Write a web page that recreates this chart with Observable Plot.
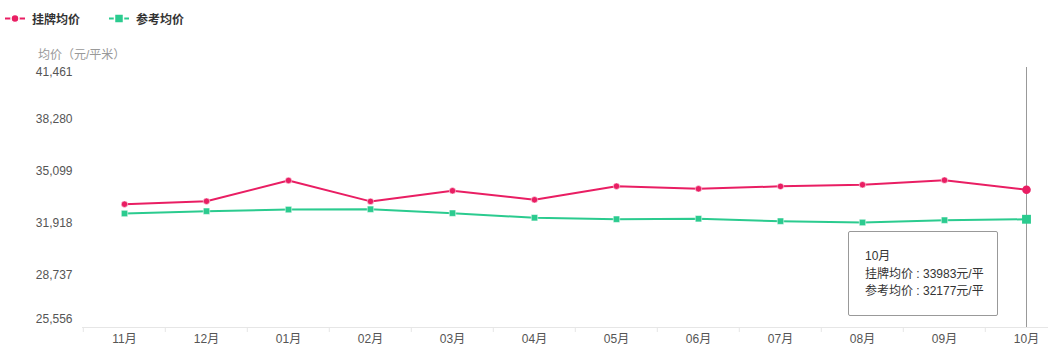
<!DOCTYPE html>
<html>
<head>
<meta charset="utf-8">
<script src="https://cdn.jsdelivr.net/npm/d3@7"></script>
<script src="https://cdn.jsdelivr.net/npm/@observablehq/plot@0.6"></script>
<style>
  html, body { margin: 0; padding: 0; background: #fff; }
  body { width: 1048px; height: 357px; overflow: hidden; position: relative;
         font-family: Arial, "Liberation Sans", "Noto Sans CJK SC", sans-serif; }
  #legend { height: 36px; position: relative; font-size: 12px; color: #333; font-weight: 600; }
  .li { position: absolute; top: 8px; display: flex; align-items: center; }
  .li svg { margin-right: 7px; }
  #ytitle { position: absolute; left: 38px; top: 45px; font-size: 12px; color: #999; }
  #tip { position: absolute; left: 848px; top: 231px; width: 148px; height: 83px;
         border: 1px solid #999; border-radius: 2px; background: #fff;
         font-size: 12px; color: #333; line-height: 17.5px; box-sizing: content-box; }
  #tip .in { padding: 16px 0 0 16px; white-space: nowrap; }
</style>
</head>
<body>
<div id="legend"></div>
<div id="chart"></div>
<div id="ytitle">均价（元/平米）</div>
<div id="tip"><div class="in"></div></div>
<script>
// ---- data ----
const months = ["11月","12月","01月","02月","03月","04月","05月","06月","07月","08月","09月","10月"];
const listing = [33100, 33280, 34550, 33270, 33920, 33370, 34200, 34040, 34190, 34290, 34570, 33983];
const reference = [32530, 32670, 32770, 32790, 32550, 32270, 32180, 32210, 32060, 31980, 32120, 32177];
const yTicks = [25556, 28737, 31918, 35099, 38280, 41461];
const seriesNames = ["挂牌均价", "参考均价"];
const unit = "元/平";

const RED = "#e91e63", GREEN = "#2bcb8f";

// legend
const legend = document.getElementById("legend");
legend.innerHTML = `
  <div class="li" style="left:5px"><svg width="20" height="20"><line x1="0" x2="20" y1="10.5" y2="10.5" stroke="${RED}" stroke-width="2"/><circle cx="10" cy="10.5" r="4" fill="${RED}" stroke="#fff" stroke-width="1.5"/></svg>${seriesNames[0]}</div>
  <div class="li" style="left:109px"><svg width="20" height="20"><line x1="0" x2="20" y1="10.5" y2="10.5" stroke="${GREEN}" stroke-width="2"/><rect x="5.5" y="6" width="9" height="9" fill="${GREEN}" stroke="#fff" stroke-width="1.5"/></svg>${seriesNames[1]}</div>`;

const rows = months.map((m, i) => ({m, a: listing[i], b: reference[i]}));
const last = rows.slice(-1);
const fmt = d3.format(",");

const plot = Plot.plot({
  width: 1048,
  height: 321,
  marginLeft: 82,
  marginRight: 0,
  marginTop: 31,
  marginBottom: 30,
  style: {fontSize: "12px", fontFamily: 'Arial, "Liberation Sans", "Noto Sans CJK SC", sans-serif', color: "#555", background: "#fff"},
  x: {type: "point", domain: months, range: [122, 1028], padding: 0},
  y: {domain: [25556, 41461]},
  marks: [
    // x axis line
    Plot.ruleY([25556], {stroke: "#e6e6e6", strokeWidth: 1}),
    // boundary ticks
    Plot.ruleX(months, {x: d => d, y1: 25556, y2: 25556, dx: -41.2, insetBottom: -5, stroke: "#e6e6e6"}),
    Plot.axisX({tickSize: 0, tickPadding: 7, fill: "#555", label: null}),
    Plot.axisY(yTicks.slice(1, -1), {tickSize: 0, tickPadding: 10, tickFormat: fmt, fill: "#555", label: null}),
    Plot.axisY(yTicks.slice(-1), {tickSize: 0, tickPadding: 10, tickFormat: fmt, fill: "#555", label: null, dy: 5}),
    Plot.axisY(yTicks.slice(0, 1), {tickSize: 0, tickPadding: 10, tickFormat: fmt, fill: "#555", label: null, dy: -8}),
    // axis pointer
    Plot.ruleX(last, {x: "m", y1: 41461, y2: 25556, stroke: "#999", strokeWidth: 1}),
    // series
    Plot.line(rows, {x: "m", y: "a", stroke: RED, strokeWidth: 2}),
    Plot.line(rows, {x: "m", y: "b", stroke: GREEN, strokeWidth: 2}),
    Plot.dot(rows.slice(0, -1), {x: "m", y: "a", r: 3.2, fill: RED, stroke: "#fff", strokeOpacity: 0.5, strokeWidth: 1}),
    Plot.dot(rows.slice(0, -1), {x: "m", y: "b", r: 3.6, symbol: "square", fill: GREEN, stroke: "#fff", strokeOpacity: 0.5, strokeWidth: 1}),
    Plot.dot(last, {x: "m", y: "a", r: 4.3, fill: RED}),
    Plot.dot(last, {x: "m", y: "b", r: 5, symbol: "square", fill: GREEN})
  ]
});
document.getElementById("chart").appendChild(plot);

const li = months.length - 1;
document.querySelector("#tip .in").innerHTML =
  `${months[li]}<br>${seriesNames[0]} : ${listing[li]}${unit}<br>${seriesNames[1]} : ${reference[li]}${unit}`;
</script>
</body>
</html>
